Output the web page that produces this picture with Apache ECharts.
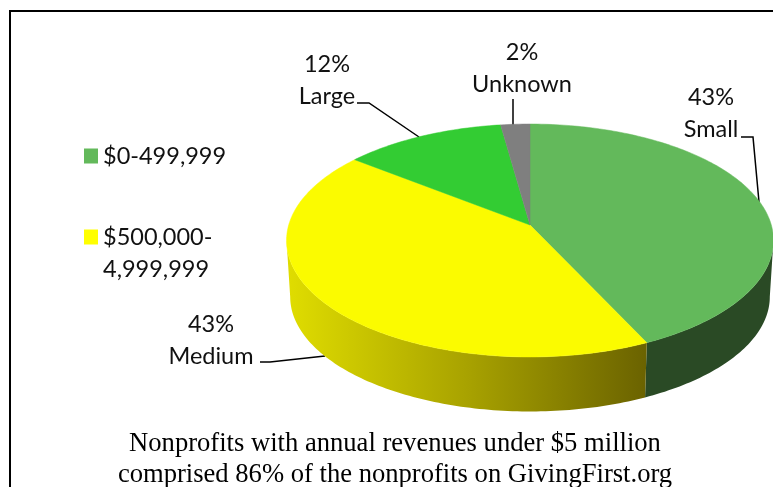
<!DOCTYPE html>
<html>
<head>
<meta charset="utf-8">
<style>html,body{margin:0;padding:0;background:#fff}#chart{width:773px;height:487px}</style>
<script src="https://cdn.jsdelivr.net/npm/echarts@6/dist/echarts.min.js"></script>
</head>
<body>
<div id="chart"></div>
<script>
var sliceNames = ['Small', 'Medium', 'Large', 'Unknown'];
var sliceValues = [43, 42.6, 12.2, 2.2];      // labels are rounded
var sliceColors = ['#63B95B', '#FBFB00', '#33CC33', '#7F7F7F'];
var legendNames = ['$0-499,999', '$500,000-\n4,999,999'];
var captionText = 'Nonprofits with annual revenues under $5 million\ncomprised 86% of the nonprofits on GivingFirst.org';

var labelFont = 'Lato, "Open Sans", sans-serif';
var tilt = 0.133;      // perspective of the disc
var edgeAngle = Math.acos(-tilt) * 180 / Math.PI;      // where the rim turns away from the viewer

// project a pie angle (degrees clockwise from 12 o'clock) on the tilted disc
function project(deg, depth) {
    var t = deg * Math.PI / 180;
    var X = Math.sin(t), Y = -Math.cos(t);
    var w = 1 - tilt * Y;
    var s = depth ? 0.985 : 1;
    return [
        530 + s * 241.3 * X / w,
        (depth ? 281.5 : 225) + s * 114.4 * Y / w
    ];
}

function startAngle(idx) {
    var sum = 0, total = 0;
    for (var i = 0; i < sliceValues.length; i++) {
        if (i < idx) sum += sliceValues[i];
        total += sliceValues[i];
    }
    return sum / total * 360;
}

function arcPoints(a, b, depth) {
    var pts = [];
    var n = Math.ceil(Math.abs(b - a));
    for (var i = 0; i <= n; i++) {
        pts.push(project(a + (b - a) * i / n, depth));
    }
    return pts;
}

function sideFill(idx) {
    if (idx == 0) return '#2A4A25';
    return new echarts.graphic.LinearGradient(290, 0, 645, 0, [
        {offset: 0, color: '#DFDC00'},
        {offset: 0.5, color: '#A8A200'},
        {offset: 1, color: '#6B6300'}
    ], true);
}

function renderSlice(params, api) {
    var idx = params.seriesIndex;
    var a = startAngle(idx);
    var b = a + api.value(0) / 100 * 360;
    var children = [];
    // only the front of the first two slices shows a wall
    if (idx < 2) {
        var a2 = idx == 0 ? edgeAngle : a;
        var b2 = idx == 0 ? b : 360 - edgeAngle;
        var wall = arcPoints(a2, b2, false).concat(arcPoints(b2, a2, true));
        children.push({type: 'polygon', shape: {points: wall}, style: {fill: sideFill(idx)}});
    }
    var top = [[530, 225]].concat(arcPoints(a, b, false));
    children.push({type: 'polygon', shape: {points: top}, style: {fill: sliceColors[idx], stroke: sliceColors[idx], lineWidth: 0.5}});
    return {type: 'group', children: children};
}

function sliceLabel(i) {
    return Math.round(sliceValues[i]) + '%\n' + sliceNames[i];
}

function labelText(i, x, y) {
    return {
        type: 'text', x: x, y: y,
        style: {
            text: sliceLabel(i), font: '23.5px ' + labelFont, fill: '#111',
            align: 'center', verticalAlign: 'middle', lineHeight: 32
        }
    };
}

function leader(points) {
    return {
        type: 'polyline', shape: {points: points},
        style: {stroke: '#000', lineWidth: 1.5, fill: null}
    };
}

var seriesList = [];
for (var i = 0; i < sliceValues.length; i++) {
    seriesList.push({
        name: i < 2 ? legendNames[i] : sliceNames[i],
        type: 'custom',
        coordinateSystem: 'none',
        itemStyle: {color: i == 1 ? '#FFFF00' : sliceColors[i]},
        renderItem: renderSlice,
        data: [[sliceValues[i]]]
    });
}

var myChart = echarts.init(document.getElementById('chart'), null, {renderer: 'canvas'});
var option = {
    animation: false,
    backgroundColor: '#fff',
    legend: {
        left: 79,
        top: 135,
        orient: 'vertical',
        itemWidth: 14,
        itemHeight: 15,
        itemGap: 17,
        icon: 'rect',
        textStyle: {fontFamily: labelFont, fontSize: 23.5, color: '#111', lineHeight: 32},
        // blank first line keeps the swatch level with the first text line
        formatter: function (name) {
            return name.indexOf('\n') >= 0 ? '\n' + name : name;
        },
        data: legendNames
    },
    title: {
        text: captionText,
        left: 395,
        top: 429,
        textAlign: 'center',
        padding: 0,
        textStyle: {
            fontFamily: '"Liberation Serif", serif',
            fontSize: 26.6, fontWeight: 'normal', color: '#000', lineHeight: 31
        }
    },
    graphic: [
        {type: 'rect', shape: {x: 10, y: 11, width: 800, height: 520}, style: {fill: null, stroke: '#000', lineWidth: 2}, z: 1},
        labelText(0, 711, 113),
        labelText(1, 211, 340),
        labelText(2, 327, 80),
        labelText(3, 522, 68),
        leader([[741, 137], [753, 137], [759, 202]]),
        leader([[260, 362], [270, 362], [325, 356]]),
        leader([[357, 103], [369, 103], [419, 137]]),
        leader([[513, 99], [513, 125]])
    ],
    series: seriesList
};
myChart.setOption(option);
</script>
</body>
</html>
